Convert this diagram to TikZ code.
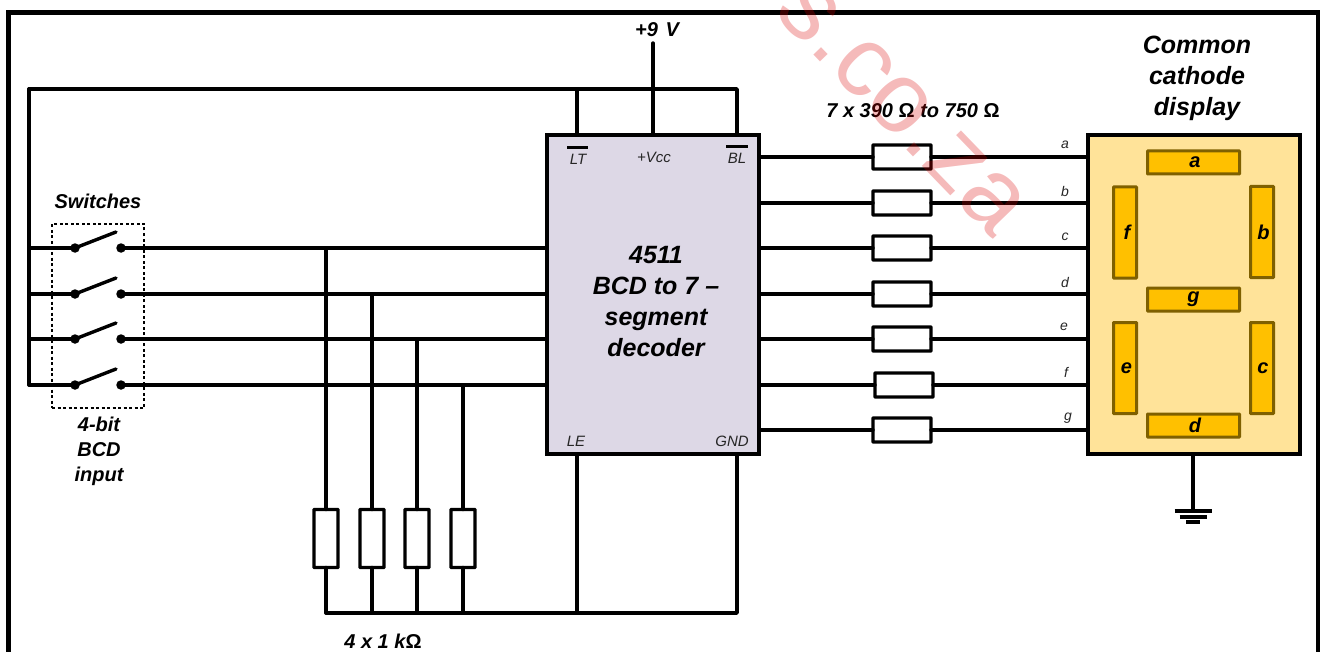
\documentclass[tikz,border=0pt]{standalone}
\usepackage{fontspec}
\setmainfont{Liberation Sans}
\newcommand{\fsz}[1]{\fontsize{#1}{#1}\selectfont}
\newcommand{\fszl}[2]{\fontsize{#1}{#2}\selectfont}
\tikzset{
  wire/.style={line width=3.4pt,line join=round,line cap=round},
  chipbox/.style={draw,line width=3.6pt,fill=#1,minimum width=212pt,minimum height=319pt,outer sep=0pt,inner sep=0pt},
  resh/.style={draw,fill=white,line width=3.4pt,rounded corners=.5pt,minimum width=58pt,minimum height=24pt,outer sep=0pt,inner sep=0pt},
  resv/.style={draw,fill=white,line width=3.4pt,rounded corners=.5pt,minimum width=24pt,minimum height=58pt,outer sep=0pt,inner sep=0pt},
  pin/.style={circle,fill=black,minimum size=9.5pt,inner sep=0pt,outer sep=0pt},
  segh/.style={draw=segedge,fill=segfill,line width=3pt,rounded corners=.5pt,minimum width=92pt,minimum height=23pt,outer sep=0pt,inner sep=0pt,font=\fsz{20}\bfseries\itshape},
  segv/.style={draw=segedge,fill=segfill,line width=3pt,rounded corners=.5pt,minimum width=23pt,minimum height=91pt,outer sep=0pt,inner sep=0pt,font=\fsz{20}\bfseries\itshape},
  heading/.style={font=\fsz{20}\bfseries\itshape,align=center,inner sep=0pt},
  small/.style={font=\fsz{15}\itshape,inner sep=0pt,text=black!85},
  wirelab/.style={font=\fsz{14}\itshape,inner sep=0pt,text=black!85},
}
\definecolor{segfill}{HTML}{FFC000}
\definecolor{segedge}{HTML}{7F6000}
\definecolor{chipfill}{HTML}{DDD8E6}
\definecolor{dispfill}{HTML}{FFE399}
\begin{document}
\begin{tikzpicture}[x=1pt,y=-1pt]
\useasboundingbox (0,0) rectangle (1321,652);
% frame
\draw[line width=4.5pt] (8.5,700) -- (8.5,12.5) -- (1318,12.5) -- (1318,700);

% main blocks
\node[chipbox=chipfill] (chip) at (653,294.5) {};
\node[chipbox=dispfill] (disp) at (1194,294.5) {};

% chip labels
\node[font=\fszl{25}{31}\bfseries\itshape,align=center,inner sep=0pt] (chiptxt) at (656,302) {4511\\BCD to 7 --\\segment\\decoder};
\node[small] (lt) at (578,159) {LT};
\node[small] (bl) at (737,158) {BL};
\node[small] (vcc) at (654,157) {+Vcc};
\node[small] (le) at (576,441) {LE};
\node[small] (gnd) at (732,441) {GND};
\coordinate (ltA) at (567,148); \coordinate (ltB) at (588,148);
\coordinate (blA) at (726,147); \coordinate (blB) at (748,147);
\draw[line width=3pt] (ltA) -- (ltB);
\draw[line width=3pt] (blA) -- (blB);

% supply
\coordinate (vtop) at (653,43);
\coordinate (busL) at (29,89);
\coordinate (ltpin) at (577,135);
\coordinate (vpin) at (653,135);
\coordinate (blpin) at (737,135);
\coordinate (lepin) at (577,454);
\coordinate (gndpin) at (737,454);
\draw[wire] (vtop) -- (vpin);
\draw[wire] (ltpin) -- (ltpin |- busL) (vpin |- busL) -- (busL);
\draw[wire] (busL) -- (blpin |- busL) -- (blpin);
\node[heading] (nine) at (657,30) {+9\hspace{2pt} V};

% switches
\foreach \n/\yy in {1/248,2/294,3/339,4/385}{
  \node[pin] (sl\n) at (75,\yy) {};
  \node[pin] (sr\n) at (121,\yy) {};
  \coordinate (blade\n) at (116,\yy-16);
  \draw[wire] (sl\n.center) -- (blade\n);
  \draw[wire] (sr\n.center) -- (sr\n.center -| chip.west);
  \draw[wire] (busL |- sl\n) -- (sl\n.center);
}
\draw[wire] (busL) -- (busL |- sl4);
\node[draw,dashed,line width=1.3pt,dash pattern=on 3pt off 2.5pt,minimum width=92pt,minimum height=184pt,inner sep=0pt,outer sep=0pt] (swbox) at (98,316) {};
\node[heading] (swlab) at (98,201) {Switches};
\node[heading,font=\fszl{20}{25}\bfseries\itshape] (bcdlab) at (99,451.5) {4-bit\\BCD\\input};

% pull-down resistors
\coordinate (gbus) at (326,613);
\foreach \n/\xx/\yy in {1/326/248,2/372/294,3/417/339,4/463/385}{
  \coordinate (tap\n) at (\xx,\yy);
  \node[resv] (pd\n) at (\xx,538.5) {};
  \draw[wire] (tap\n) -- (pd\n.north);
  \draw[wire] (pd\n.south) -- (pd\n.south |- gbus);
}
\draw[wire] (lepin) -- (lepin |- gbus);
\draw[wire] (gndpin) -- (gndpin |- gbus) -- (gbus);
\node[heading] (pdlab) at (383,641) {4 x 1 k{\upshape Ω}};

% series resistors and segment wires
\foreach \n/\yy/\xx/\lx/\ly/\ll in {1/157/902/1065/145/a,2/203/902/1065/191/b,3/248/902/1065/237/c,4/294/902/1065/282/d,5/339/902/1064/327/e,6/385/904/1066/372/f,7/430/902/1068/418/g}{
  \node[resh] (rs\n) at (\xx,\yy) {};
  \draw[wire] (rs\n.west -| chip.east) -- (rs\n.west);
  \draw[wire] (rs\n.east) -- (rs\n.east -| disp.west);
  \node[wirelab] (wl\n) at (\lx,\ly) {\ll};
}
\node[heading] (rslab) at (913,111) {7 x 390 {\upshape Ω} to 750 {\upshape Ω}};

% display
\node[font=\fszl{25}{31}\bfseries\itshape,align=center,inner sep=0pt] (disptitle) at (1197,78) {Common\\cathode\\display};
\node[segh] (sa) at (1193.5,162.5) {\hspace*{3pt}\raisebox{-2pt}{a}};
\node[segh] (sg) at (1193.5,299.5) {\raisebox{-3pt}{g}};
\node[segh] (sd) at (1193.5,425.5) {\hspace*{3pt}d};
\node[segv] (sf) at (1125,232.5) {\hspace*{4pt}f};
\node[segv] (sb) at (1262,232) {\hspace*{3pt}b};
\node[segv] (se) at (1125,368) {\hspace*{3pt}e};
\node[segv] (sc) at (1262,368) {\hspace*{2pt}c};

% ground
\coordinate (gtop) at (1193,454);
\coordinate (g1) at (1193,511);
\coordinate (g2) at (1193,517);
\coordinate (g3) at (1193,522);
\draw[wire] (gtop) -- (g1);
\draw[line width=3.2pt] ([xshift=-18.5pt]g1) -- ([xshift=18.5pt]g1);
\draw[line width=3.2pt] ([xshift=-13.5pt]g2) -- ([xshift=13.5pt]g2);
\draw[line width=3.2pt] ([xshift=-7pt]g3) -- ([xshift=7pt]g3);

% watermark
\node[rotate=-46,anchor=base,text=red!85!black,opacity=.27,font=\fsz{100},inner sep=0pt] (wm) at (883,126) {s.co.za};
\end{tikzpicture}
\end{document}
